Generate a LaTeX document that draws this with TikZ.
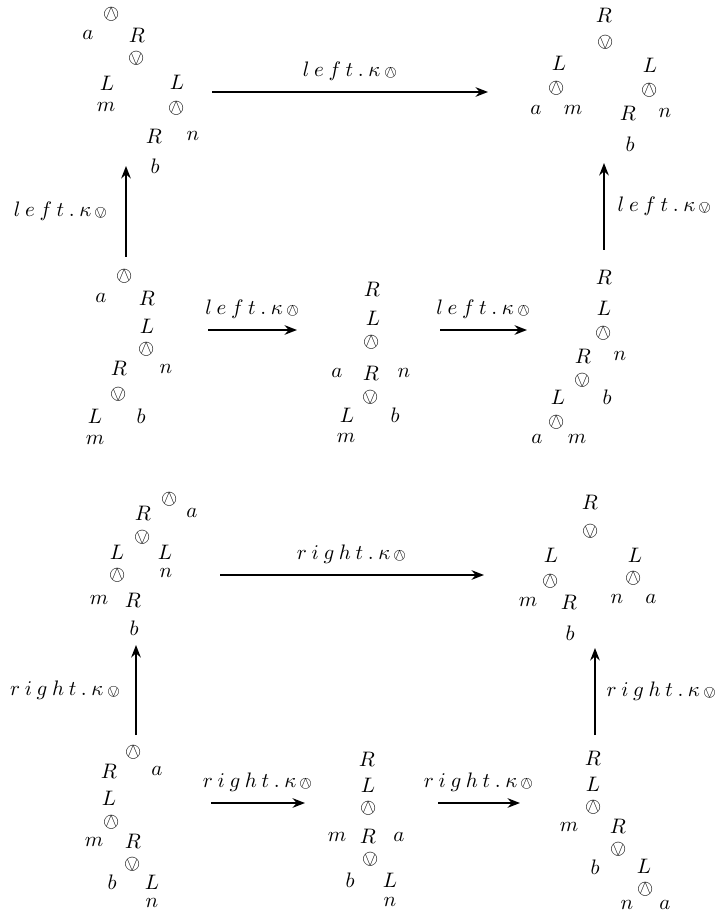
\documentclass[tikz,border=0pt]{standalone}
\usepackage{stmaryrd}
\usetikzlibrary{arrows.meta}
\newcommand{\opname}[2]{$#1\mkern4mu.\mkern4mu\kappa\,{\scriptstyle #2}$}
\newcommand{\lftword}{l\mkern4mu e\mkern4mu f\mkern4mu t}
\newcommand{\rgtword}{r\mkern4mu i\mkern4mu g\mkern4mu h\mkern4mu t}

\begin{document}
\begin{tikzpicture}[x=0.525pt, y=-0.525pt, >={Stealth[length=6.5pt,width=5pt]},
every node/.style={inner sep=0pt, scale=1.1},
move/.style={->, line width=1.1pt}]
  \useasboundingbox (0,0) rectangle (717,915);
  % top left
  \node (t1w1) at (112,14) {$\owedge$};
  \node (t1a) at (88,35) {$a$};   \node (t1R1) at (137,35) {$R$};
  \node (t1v1) at (137,58) {$\ovee$};
  \node (t1L1) at (107,83) {$L$}; \node (t1L2) at (177,82) {$L$};
  \node (t1m) at (106,107) {$m$}; \node (t1w2) at (177,108) {$\owedge$};
  \node (t1R2) at (154,136) {$R$}; \node (t1n) at (193,136) {$n$};
  \node (t1b) at (155,166) {$b$};
  % top right
  \node (t2R1) at (604,15) {$R$};
  \node (t2v1) at (606,42) {$\ovee$};
  \node (t2L1) at (559,63) {$L$}; \node (t2L2) at (650,65) {$L$};
  \node (t2w1) at (557,88) {$\owedge$}; \node (t2w2) at (650,90) {$\owedge$};
  \node (t2a) at (536,110) {$a$}; \node (t2m) at (573,110) {$m$};
  \node (t2R2) at (628,113) {$R$}; \node (t2n) at (665,113) {$n$};
  \node (t2b) at (630,144) {$b$};
  % middle row
  \node (t3w1) at (125,276) {$\owedge$};
  \node (t3a) at (101,298) {$a$}; \node (t3R1) at (147,298) {$R$};
  \node (t3L1) at (147,326) {$L$};
  \node (t3w2) at (147,349) {$\owedge$};
  \node (t3R2) at (119,368) {$R$}; \node (t3n) at (166,369) {$n$};
  \node (t3v1) at (119,394) {$\ovee$};
  \node (t3L2) at (95,416) {$L$}; \node (t3b) at (141,416) {$b$};
  \node (t3m) at (95,440) {$m$};

  \node (t4R1) at (372,289) {$R$};
  \node (t4L1) at (373,318) {$L$};
  \node (t4w1) at (372,342) {$\owedge$};
  \node (t4a) at (337,373) {$a$}; \node (t4R2) at (371,373) {$R$}; \node (t4n) at (404,373) {$n$};
  \node (t4v1) at (371,397) {$\ovee$};
  \node (t4L2) at (347,415) {$L$}; \node (t4b) at (395,415) {$b$};
  \node (t4m) at (346,438) {$m$};

  \node (t5R1) at (604,277) {$R$};
  \node (t5L1) at (604,308) {$L$};
  \node (t5w1) at (604,333) {$\owedge$};
  \node (t5R2) at (583,356) {$R$}; \node (t5n) at (620,356) {$n$};
  \node (t5v1) at (583,380) {$\ovee$};
  \node (t5L2) at (558,397) {$L$}; \node (t5b) at (607,397) {$b$};
  \node (t5w2) at (557,422) {$\owedge$};
  \node (t5a) at (537,439) {$a$}; \node (t5m) at (577,439) {$m$};
  % lower top row
  \node (t6w1) at (170,499) {$\owedge$};
  \node (t6R1) at (143,513) {$R$}; \node (t6a) at (192,513) {$a$};
  \node (t6v1) at (143,537) {$\ovee$};
  \node (t6L1) at (117,552) {$L$}; \node (t6L2) at (165,552) {$L$};
  \node (t6w2) at (118,575) {$\owedge$}; \node (t6n) at (166,573) {$n$};
  \node (t6m) at (99,600) {$m$}; \node (t6R2) at (133,600) {$R$};
  \node (t6b) at (134,628) {$b$};

  \node (t7R1) at (590,502) {$R$};
  \node (t7v1) at (591,531) {$\ovee$};
  \node (t7L1) at (551,555) {$L$}; \node (t7L2) at (635,555) {$L$};
  \node (t7w1) at (551,581) {$\owedge$}; \node (t7w2) at (634,578) {$\owedge$};
  \node (t7m) at (528,602) {$m$}; \node (t7R2) at (569,602) {$R$};
  \node (t7n) at (617,599) {$n$}; \node (t7a) at (651,599) {$a$};
  \node (t7b) at (570,633) {$b$};
  % bottom row
  \node (t8w1) at (134,752) {$\owedge$};
  \node (t8R1) at (109,771) {$R$}; \node (t8a) at (157,771) {$a$};
  \node (t8L1) at (109,798) {$L$};
  \node (t8w2) at (112,822) {$\owedge$};
  \node (t8m) at (94,842) {$m$}; \node (t8R2) at (133,841) {$R$};
  \node (t8v1) at (133,864) {$\ovee$};
  \node (t8b) at (112,882) {$b$}; \node (t8L2) at (152,882) {$L$};
  \node (t8n) at (152,903) {$n$};

  \node (t9R1) at (367,759) {$R$};
  \node (t9L1) at (368,785) {$L$};
  \node (t9w1) at (369,808) {$\owedge$};
  \node (t9m) at (337,837) {$m$}; \node (t9R2) at (368,836) {$R$}; \node (t9a) at (399,837) {$a$};
  \node (t9v1) at (371,859) {$\ovee$};
  \node (t9b) at (350,880) {$b$}; \node (t9L2) at (390,880) {$L$};
  \node (t9n) at (390,902) {$n$};

  \node (t10R1) at (593,758) {$R$};
  \node (t10L1) at (593,784) {$L$};
  \node (t10w1) at (594,807) {$\owedge$};
  \node (t10m) at (569,827) {$m$}; \node (t10R2) at (618,826) {$R$};
  \node (t10v1) at (619,849) {$\ovee$};
  \node (t10b) at (595,867) {$b$}; \node (t10L2) at (644,866) {$L$};
  \node (t10w2) at (646,889) {$\owedge$};
  \node (t10n) at (627,905) {$n$}; \node (t10a) at (665,905) {$a$};

  % arrow ends
  \coordinate (h1s) at (212,92);  \coordinate (h1e) at (488,92);
  \coordinate (u1s) at (126,257); \coordinate (u1e) at (126,166);
  \coordinate (u2s) at (604,250); \coordinate (u2e) at (604,163);
  \coordinate (m1s) at (208,330); \coordinate (m1e) at (297,330);
  \coordinate (m2s) at (440,330); \coordinate (m2e) at (527,330);
  \coordinate (h2s) at (220,575); \coordinate (h2e) at (484,575);
  \coordinate (u3s) at (136,735); \coordinate (u3e) at (136,645);
  \coordinate (u4s) at (595,735); \coordinate (u4e) at (595,648);
  \coordinate (b1s) at (211,803); \coordinate (b1e) at (305,803);
  \coordinate (b2s) at (438,803); \coordinate (b2e) at (520,803);

  \draw[move] (h1s) -- (h1e) node[midway,above=5pt] {\opname{\lftword}{\owedge}};
  \draw[move] (u1s) -- (u1e) node[midway,left=8pt] {\opname{\lftword}{\ovee}};
  \draw[move] (u2s) -- (u2e) node[midway,right=6pt] {\opname{\lftword}{\ovee}};
  \draw[move] (m1s) -- (m1e) node[midway,above=5pt] {\opname{\lftword}{\owedge}};
  \draw[move] (m2s) -- (m2e) node[midway,above=5pt] {\opname{\lftword}{\owedge}};
  \draw[move] (h2s) -- (h2e) node[midway,above=5pt] {\opname{\rgtword}{\owedge}};
  \draw[move] (u3s) -- (u3e) node[midway,left=7pt] {\opname{\rgtword}{\ovee}};
  \draw[move] (u4s) -- (u4e) node[midway,right=5pt] {\opname{\rgtword}{\ovee}};
  \draw[move] (b1s) -- (b1e) node[midway,above=5pt] {\opname{\rgtword}{\owedge}};
  \draw[move] (b2s) -- (b2e) node[midway,above=5pt] {\opname{\rgtword}{\owedge}};
\end{tikzpicture}
\end{document}
